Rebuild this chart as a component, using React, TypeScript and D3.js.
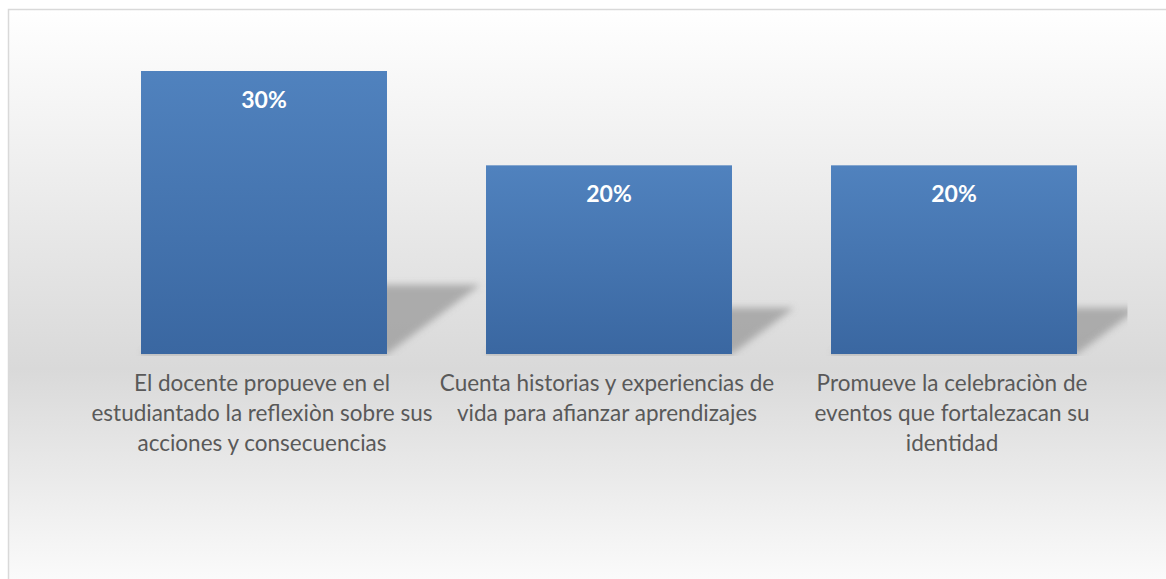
import React from "react";
import * as d3 from "d3";

const categories: string[][] = [
  ["El docente propueve en el", "estudiantado la reflexiòn sobre sus", "acciones y consecuencias"],
  ["Cuenta historias y experiencias de", "vida para afianzar aprendizajes"],
  ["Promueve la celebraciòn de", "eventos que fortalezacan su", "identidad"],
];
const values: number[] = [30, 20, 20];
const valueLabels: string[] = ["30%", "20%", "20%"];

const W = 1166;
const H = 579;

export default function App() {
  const x = d3
    .scaleBand<number>()
    .domain(values.map((_, i) => i))
    .range([91.5, 1126.5])
    .paddingInner(0.287)
    .paddingOuter(0.1435);
  const y = d3.scaleLinear().domain([0, 30]).range([354, 71]);
  const base = y(0);
  const font = "Lato, 'Noto Sans', sans-serif";

  return (
    <svg
      width={W}
      height={H}
      style={{ position: "absolute", left: 0, top: 0 }}
      xmlns="http://www.w3.org/2000/svg"
    >
      <defs>
        <linearGradient id="bg" x1="0" y1="0" x2="0" y2="1">
          <stop offset="0" stopColor="#ffffff" />
          <stop offset="0.6" stopColor="#d9d9d9" />
          <stop offset="1" stopColor="#ffffff" />
        </linearGradient>
        <linearGradient id="bar" x1="0" y1="0" x2="0" y2="1">
          <stop offset="0" stopColor="#5082be" />
          <stop offset="1" stopColor="#3a67a1" />
        </linearGradient>
        <filter id="blur" x="-20%" y="-20%" width="140%" height="140%">
          <feGaussianBlur stdDeviation="3.5" />
        </filter>
        <clipPath id="plot">
          <rect x={x.range()[0]} y={0} width={x.range()[1] - x.range()[0] + 1} height={base + 2} />
        </clipPath>
      </defs>
      <rect x={0} y={0} width={W} height={H} fill="#ffffff" />
      <rect x={8.5} y={9.5} width={W + 20} height={H + 20} fill="url(#bg)" stroke="#d9d9d9" strokeWidth={1.5} />
      <g clipPath="url(#plot)">
        {values.map((v, i) => {
          const x0 = x(i)!;
          const x1 = x0 + x.bandwidth();
          const h = base - y(v);
          const dx = 0.33 * h;
          const dy = 0.245 * h;
          const pts = [
            [x0, base],
            [x1, base],
            [x1 + dx, base - dy],
            [x0 + dx, base - dy],
          ]
            .map((p) => p.join(","))
            .join(" ");
          return <polygon key={i} points={pts} fill="#9a9a9a" opacity={0.75} filter="url(#blur)" />;
        })}
      </g>
      {values.map((v, i) => (
        <g key={i}>
          <rect x={x(i)!} y={base} width={x.bandwidth()} height={1.5} fill="#c4c4c4" />
          <rect x={x(i)!} y={y(v)} width={x.bandwidth()} height={base - y(v)} fill="url(#bar)" />
          <text
            x={x(i)! + x.bandwidth() / 2}
            y={y(v) + 37}
            textAnchor="middle"
            fill="#ffffff"
            fontFamily={font}
            fontWeight="bold"
            fontSize={23}
          >
            {valueLabels[i]}
          </text>
        </g>
      ))}
      {categories.map((lines, i) => (
        <text
          key={i}
          x={x(i)! + x.bandwidth() / 2 - 2}
          y={391}
          textAnchor="middle"
          fill="#595959"
          fontFamily={font}
          fontSize={22.5}
        >
          {lines.map((l, j) => (
            <tspan key={j} x={x(i)! + x.bandwidth() / 2 - 2} dy={j === 0 ? 0 : 30}>
              {l}
            </tspan>
          ))}
        </text>
      ))}
    </svg>
  );
}
